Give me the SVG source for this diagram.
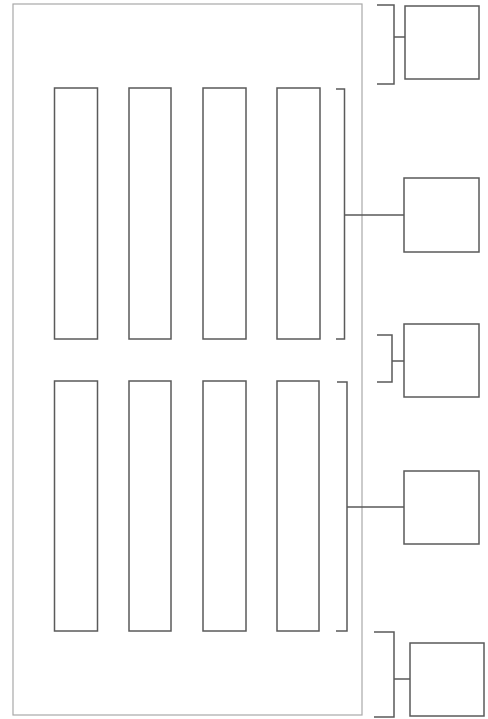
<svg xmlns="http://www.w3.org/2000/svg" width="488" height="719" viewBox="0 0 488 719">
<style>
.outer{fill:#fff;stroke:#a8a8a8;stroke-width:1.2}
.box{fill:#fff;stroke:#5a5a5a;stroke-width:1.5}
.ln{fill:none;stroke:#5a5a5a;stroke-width:1.5}
</style>
<rect width="488" height="719" fill="#fff"/>
<g id="container"><rect class="outer" x="13" y="4" width="349" height="711"/></g>
<g id="r1c1"><rect class="box" x="54.5" y="88" width="43" height="251"/></g>
<g id="r1c2"><rect class="box" x="129" y="88" width="42" height="251"/></g>
<g id="r1c3"><rect class="box" x="203" y="88" width="43" height="251"/></g>
<g id="r1c4"><rect class="box" x="277" y="88" width="43" height="251"/></g>
<g id="r2c1"><rect class="box" x="54.5" y="381" width="43" height="250"/></g>
<g id="r2c2"><rect class="box" x="129" y="381" width="42" height="250"/></g>
<g id="r2c3"><rect class="box" x="203" y="381" width="43" height="250"/></g>
<g id="r2c4"><rect class="box" x="277" y="381" width="42" height="250"/></g>
<g id="b1"><rect class="box" x="405" y="6" width="74" height="73"/></g>
<g id="b2"><rect class="box" x="404" y="178" width="75" height="74"/></g>
<g id="b3"><rect class="box" x="404" y="324" width="75" height="73"/></g>
<g id="b4"><rect class="box" x="404" y="471" width="75" height="73"/></g>
<g id="b5"><rect class="box" x="410" y="643" width="74" height="73"/></g>
<g id="connectors">
<path class="ln" d="M377 5H394V84H377M394 37H405"/>
<path class="ln" d="M336 89H344.5V339H336M344.5 215H404"/>
<path class="ln" d="M377 335H392V382H377M392 361H404"/>
<path class="ln" d="M337 382H347V631H336M347 507H404"/>
<path class="ln" d="M374 632H394V717H374M394 679H410"/>
</g>
</svg>
